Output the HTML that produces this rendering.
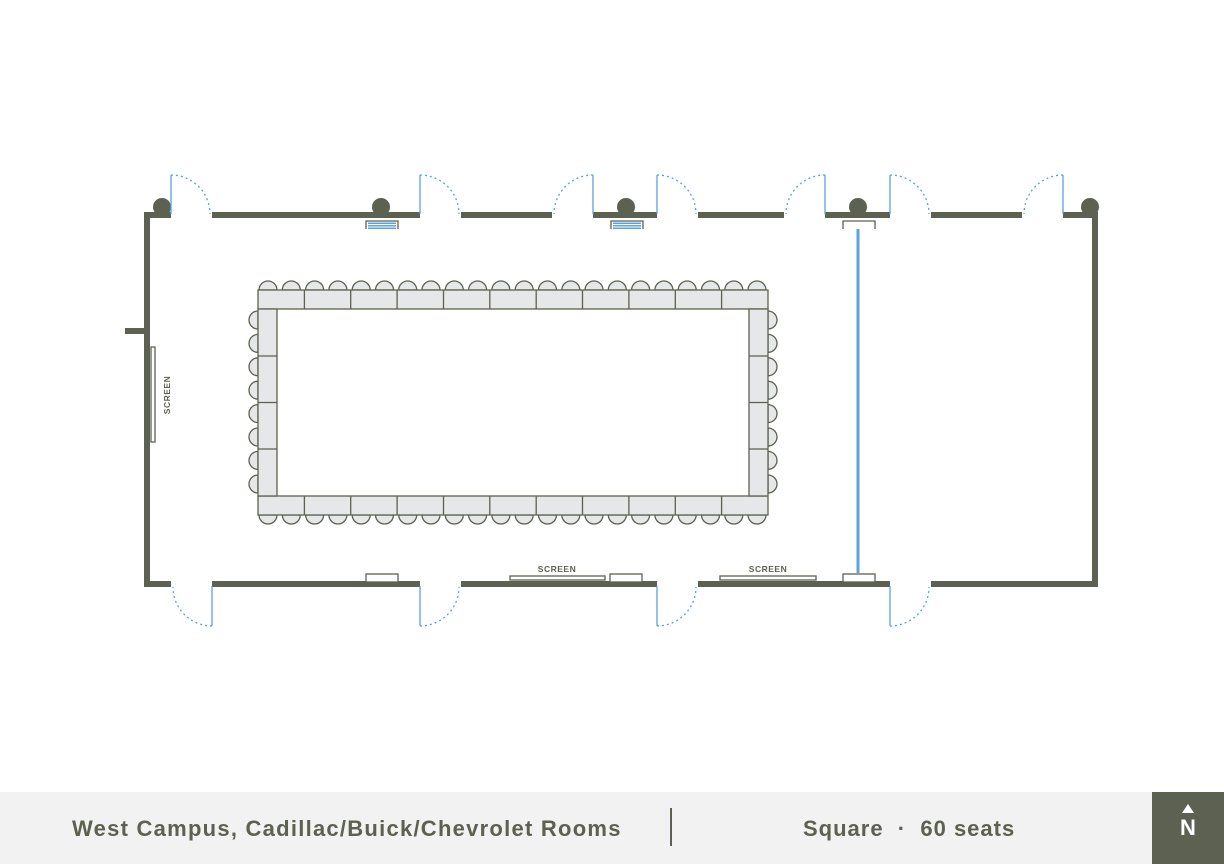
<!DOCTYPE html>
<html><head><meta charset="utf-8"><style>
body{margin:0;width:1224px;height:864px;background:#fff;overflow:hidden;font-family:"Liberation Sans",sans-serif}
#f{position:absolute;left:0;top:792px;width:1224px;height:72px;background:#f2f2f2}
.t{position:absolute;top:24px;font-size:22px;font-weight:bold;color:#5d6152}
#n{position:absolute;left:1152px;top:0;width:72px;height:72px;background:#5d6152;color:#fff;text-align:center}
</style></head><body>
<svg width="1224" height="792" style="position:absolute;left:0;top:0">
<defs>
<path id="ct" d="M-9,0 A9,9 0 0 1 9,0 Z" fill="#e6e7e8" stroke="#5d6152" stroke-width="1.3"/>
</defs>
<g stroke="#5d6152" stroke-width="6" fill="none">
<path d="M171,215 H147 V584 H171"/>
<path d="M212,215 H420 M461,215 H552 M593,215 H657 M698,215 H784 M825,215 H890 M931,215 H1022 M1063,215 H1095 V584 H931"/>
<path d="M212,584 H420 M461,584 H657 M698,584 H890"/>
<path d="M125,331 H147"/>
</g>
<g fill="#5d6152"><circle cx="162" cy="207" r="9"/><circle cx="381" cy="207" r="9"/><circle cx="626" cy="207" r="9"/><circle cx="858" cy="207" r="9"/><circle cx="1090" cy="207" r="9"/></g>
<g stroke="#5ba3dd" stroke-width="1.3" fill="none">
<path d="M171,175V214 M420,175V214 M593,175V214 M657,175V214 M825,175V214 M890,175V214 M1063,175V214"/>
<path d="M212,586V626 M420,586V626 M657,586V626 M890,586V626"/>
</g>
<g stroke="#5ba3dd" stroke-width="1.3" fill="none" stroke-dasharray="2,3">
<path d="M171,175 A39,39 0 0 1 210,214"/><path d="M420,175 A39,39 0 0 1 459,214"/>
<path d="M593,175 A39,39 0 0 0 554,214"/><path d="M657,175 A39,39 0 0 1 696,214"/>
<path d="M825,175 A39,39 0 0 0 786,214"/><path d="M890,175 A39,39 0 0 1 929,214"/>
<path d="M1063,175 A39,39 0 0 0 1024,214"/>
<path d="M212,626 A39,39 0 0 1 173,587"/><path d="M420,626 A39,39 0 0 0 459,587"/>
<path d="M657,626 A39,39 0 0 0 696,587"/><path d="M890,626 A39,39 0 0 0 929,587"/>
</g>
<g fill="#fff" stroke="#5d6152" stroke-width="1.3">
<path d="M366,229V221H398V229" /><path d="M611,229V221H643V229"/><path d="M843,229V221H875V229"/>
<rect x="366" y="574" width="32" height="8"/><rect x="610" y="574" width="32" height="8"/><rect x="843" y="574" width="32" height="8"/>
<rect x="510" y="576" width="95" height="4"/><rect x="720" y="576" width="96" height="4"/>
<rect x="151" y="347" width="4" height="95"/>
</g>
<g fill="#5ba3dd"><rect x="368" y="222.5" width="28" height="1.5"/><rect x="368" y="225" width="28" height="1.5"/><rect x="368" y="227.5" width="28" height="1.5"/>
<rect x="613" y="222.5" width="28" height="1.5"/><rect x="613" y="225" width="28" height="1.5"/><rect x="613" y="227.5" width="28" height="1.5"/></g>
<path d="M858,229V574" stroke="#5ba3dd" stroke-width="3"/>
<g font-family="Liberation Sans" font-weight="bold" font-size="8.5" fill="#5d6152" text-anchor="middle" letter-spacing="0.5">
<text x="557" y="572">SCREEN</text><text x="768" y="572">SCREEN</text>
<text transform="translate(170,395) rotate(-90)">SCREEN</text>
</g>
<g>
<use href="#ct" x="268" y="290"/><use href="#ct" x="291.3" y="290"/><use href="#ct" x="314.6" y="290"/><use href="#ct" x="337.9" y="290"/><use href="#ct" x="361.2" y="290"/><use href="#ct" x="384.5" y="290"/><use href="#ct" x="407.7" y="290"/><use href="#ct" x="431" y="290"/><use href="#ct" x="454.3" y="290"/><use href="#ct" x="477.6" y="290"/><use href="#ct" x="500.9" y="290"/><use href="#ct" x="524.2" y="290"/><use href="#ct" x="547.5" y="290"/><use href="#ct" x="570.8" y="290"/><use href="#ct" x="594" y="290"/><use href="#ct" x="617.3" y="290"/><use href="#ct" x="640.6" y="290"/><use href="#ct" x="663.9" y="290"/><use href="#ct" x="687.2" y="290"/><use href="#ct" x="710.5" y="290"/><use href="#ct" x="733.8" y="290"/><use href="#ct" x="757" y="290"/>
</g>
<g transform="translate(0,805) scale(1,-1)">
<use href="#ct" x="268" y="290"/><use href="#ct" x="291.3" y="290"/><use href="#ct" x="314.6" y="290"/><use href="#ct" x="337.9" y="290"/><use href="#ct" x="361.2" y="290"/><use href="#ct" x="384.5" y="290"/><use href="#ct" x="407.7" y="290"/><use href="#ct" x="431" y="290"/><use href="#ct" x="454.3" y="290"/><use href="#ct" x="477.6" y="290"/><use href="#ct" x="500.9" y="290"/><use href="#ct" x="524.2" y="290"/><use href="#ct" x="547.5" y="290"/><use href="#ct" x="570.8" y="290"/><use href="#ct" x="594" y="290"/><use href="#ct" x="617.3" y="290"/><use href="#ct" x="640.6" y="290"/><use href="#ct" x="663.9" y="290"/><use href="#ct" x="687.2" y="290"/><use href="#ct" x="710.5" y="290"/><use href="#ct" x="733.8" y="290"/><use href="#ct" x="757" y="290"/>
</g>
<g transform="rotate(-90)">
<use href="#ct" x="-320" y="258"/><use href="#ct" x="-343.4" y="258"/><use href="#ct" x="-366.8" y="258"/><use href="#ct" x="-390.2" y="258"/><use href="#ct" x="-413.6" y="258"/><use href="#ct" x="-437" y="258"/><use href="#ct" x="-460.4" y="258"/><use href="#ct" x="-484" y="258"/>
</g>
<g transform="translate(1026,0) scale(-1,1) rotate(-90)">
<use href="#ct" x="-320" y="258"/><use href="#ct" x="-343.4" y="258"/><use href="#ct" x="-366.8" y="258"/><use href="#ct" x="-390.2" y="258"/><use href="#ct" x="-413.6" y="258"/><use href="#ct" x="-437" y="258"/><use href="#ct" x="-460.4" y="258"/><use href="#ct" x="-484" y="258"/>
</g>
<g fill="#e6e7e8" stroke="#5d6152" stroke-width="1.3">
<rect x="258" y="290" width="510" height="19"/><rect x="258" y="496" width="510" height="19"/>
<rect x="258" y="309" width="19" height="187"/><rect x="749" y="309" width="19" height="187"/>
</g>
<g stroke="#5d6152" stroke-width="1.3">
<path d="M304.4,290V309 M350.7,290V309 M397.1,290V309 M443.5,290V309 M489.8,290V309 M536.2,290V309 M582.5,290V309 M628.9,290V309 M675.3,290V309 M721.6,290V309"/>
<path d="M304.4,496V515 M350.7,496V515 M397.1,496V515 M443.5,496V515 M489.8,496V515 M536.2,496V515 M582.5,496V515 M628.9,496V515 M675.3,496V515 M721.6,496V515"/>
<path d="M258,356H277 M258,402.5H277 M258,449H277 M749,356H768 M749,402.5H768 M749,449H768"/>
</g>
</svg>
<div id="f">
<div class="t" style="left:72px;letter-spacing:1.25px">West Campus, Cadillac/Buick/Chevrolet Rooms</div>
<div style="position:absolute;left:670px;top:16px;width:2px;height:38px;background:#5d6152"></div>
<div class="t" style="left:803px;letter-spacing:1px">Square &nbsp;·&nbsp; 60 seats</div>
<div id="n"><div style="position:absolute;left:30px;top:12px;width:0;height:0;border-left:6px solid transparent;border-right:6px solid transparent;border-bottom:9px solid #fff"></div><div style="position:absolute;left:0;width:72px;top:23px;font-size:22px;font-weight:bold">N</div></div>
</div>
</body></html>
